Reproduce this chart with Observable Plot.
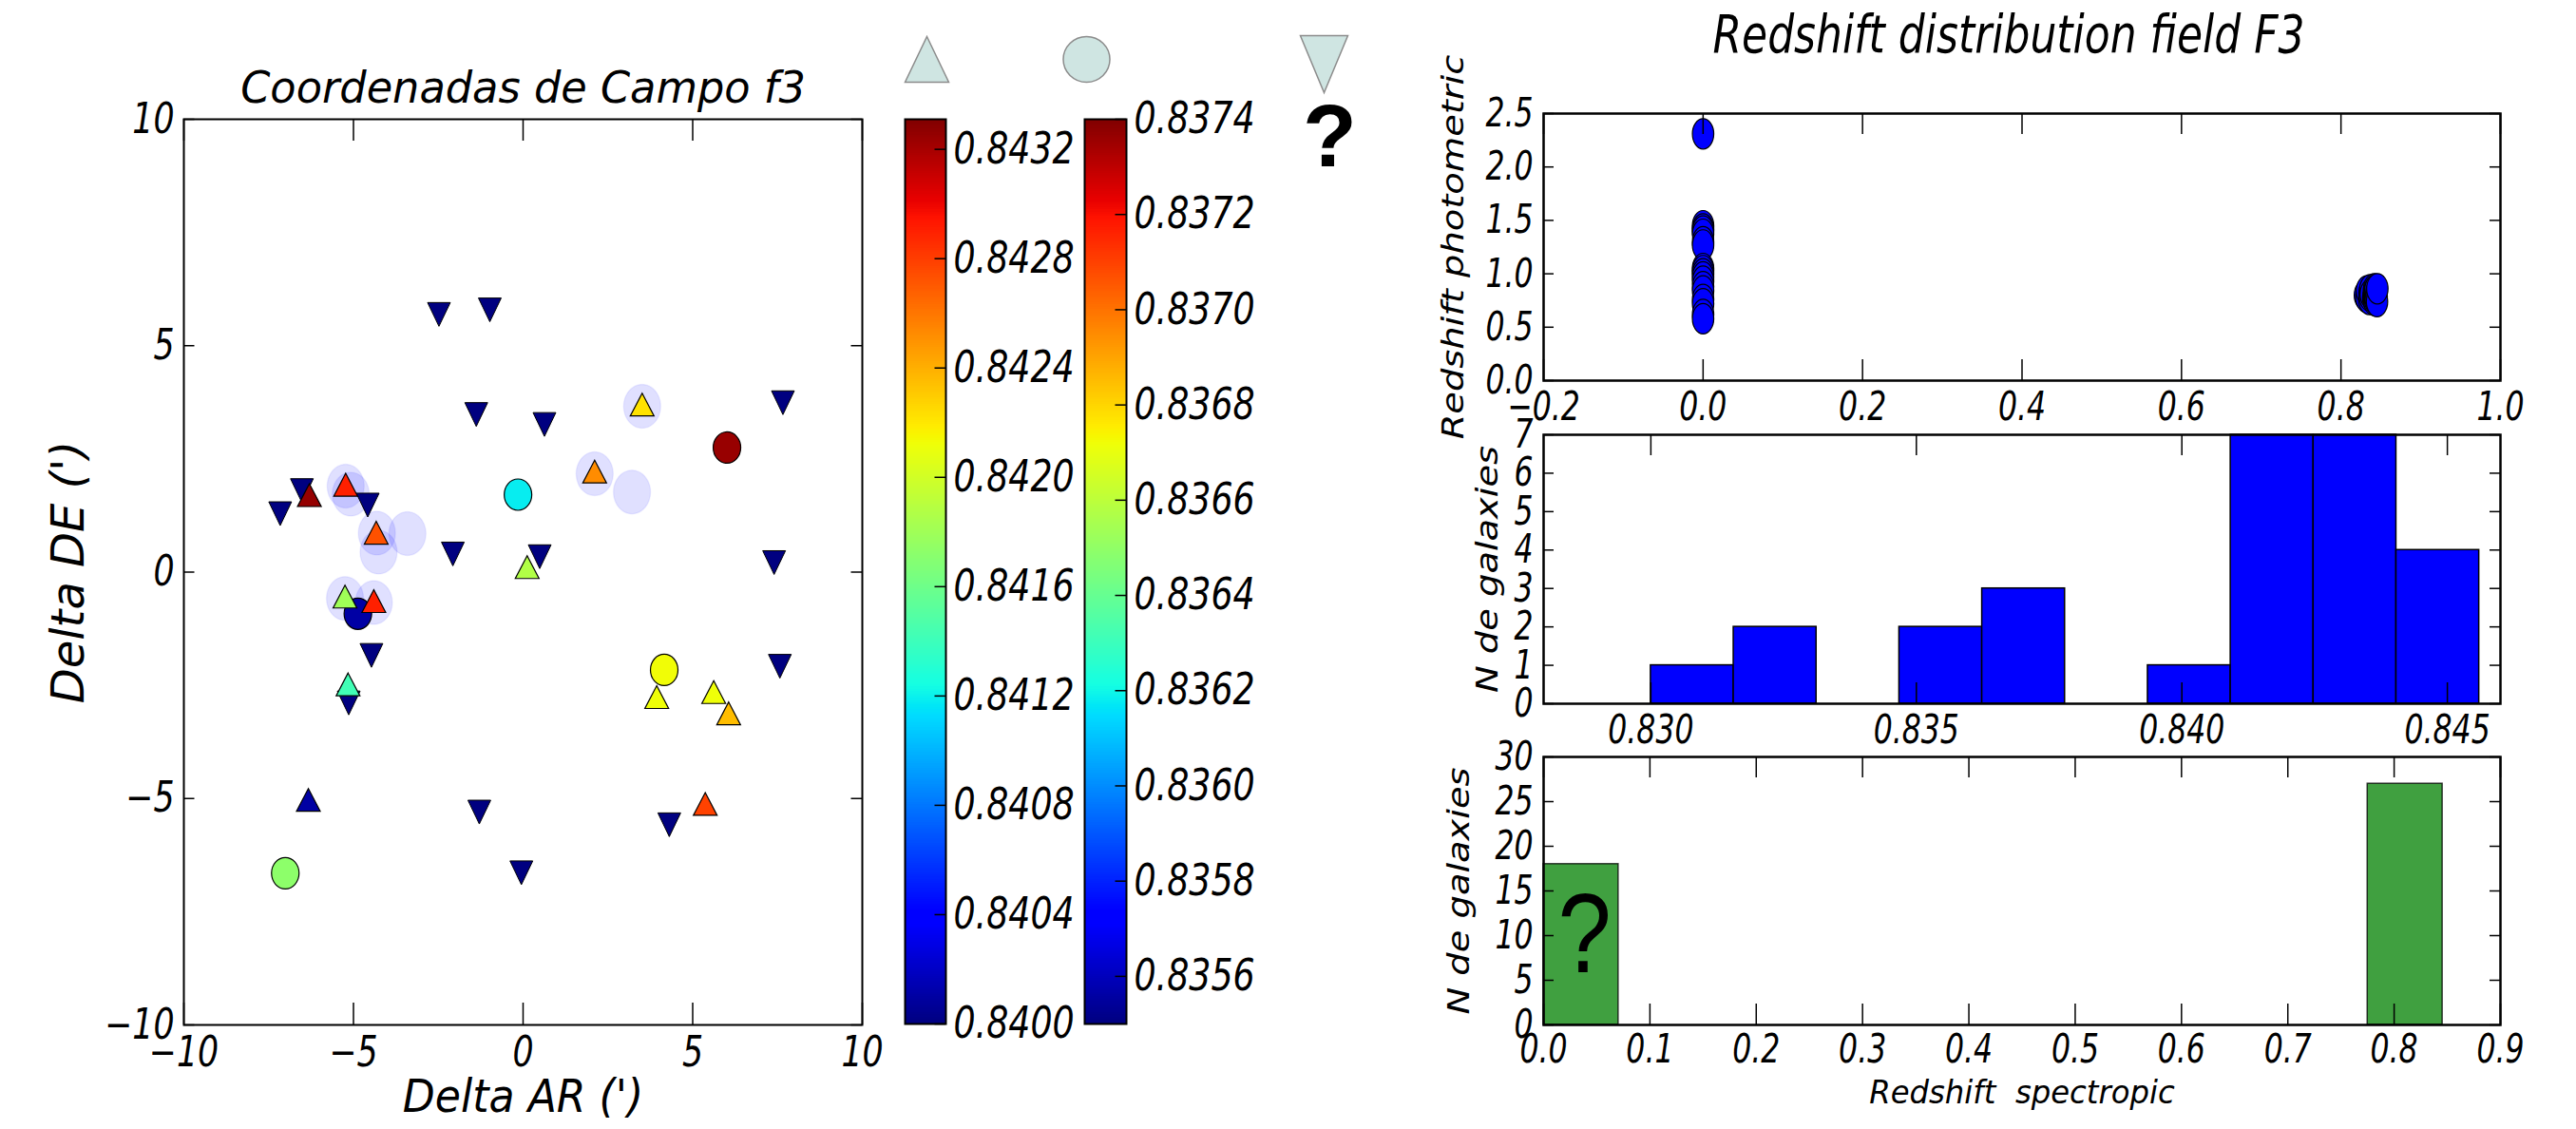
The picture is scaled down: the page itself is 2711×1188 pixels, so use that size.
<!DOCTYPE html>
<html><head><meta charset="utf-8">
<script src="https://cdn.jsdelivr.net/npm/d3@7"></script>
<script src="https://cdn.jsdelivr.net/npm/@observablehq/plot@0.6"></script>
<style>
body{margin:0;background:#fff;}
#fig{position:relative;width:2711px;height:1188px;background:#fff;overflow:hidden;}
#fig > svg{position:absolute;}
</style></head><body><div id="fig"></div>
<script>
// ---------- Left panel: field coordinates ----------
// galaxies with z_spec > 0.84 (triangles, colour = z)
const triX = [-6.30, -5.23, -4.33, 2.11, 3.51, 0.12, -5.25, -4.40, -5.16, 3.94, 5.62, 6.06, 5.37, -6.33];
const triY = [1.70, 1.93, 0.87, 2.22, 3.70, 0.11, -0.54, -0.64, -2.48, -2.76, -2.65, -3.12, -5.12, -5.03];
const triZ = [0.84325, 0.84290, 0.84273, 0.84252, 0.84222, 0.84187, 0.84180, 0.84290, 0.84142, 0.84212, 0.84212, 0.84235, 0.84278, 0.84010];
// galaxies with z_spec 0.835-0.838 (circles)
const circX = [6.01, -0.15, -4.87, 4.16, -7.01];
const circY = [2.75, 1.71, -0.92, -2.16, -6.65];
const circZ = [0.83736, 0.83618, 0.83556, 0.83672, 0.83649];
// galaxies without spectroscopic redshift (inverted triangles)
const invX = [-2.48, -0.98, -1.38, 0.63, 7.66, -7.16, -6.52, -4.58, -2.07, 0.49, 7.40, -4.47, -5.14, 7.57, -1.29, 4.31, -0.05];
const invY = [5.69, 5.79, 3.48, 3.26, 3.74, 1.29, 1.80, 1.48, 0.40, 0.34, 0.21, -1.84, -2.89, -2.08, -5.30, -5.58, -6.64];
// translucent halos
const haloX = [-5.23, -5.08, -4.31, -3.41, -4.26, 2.11, 3.21, 3.51, -5.25, -4.40];
const haloY = [1.90, 1.72, 0.86, 0.85, 0.44, 2.17, 1.77, 3.66, -0.58, -0.67];
const coordTicks = [-10, -5, 0, 5, 10];

// colour bars
const TRI_LO = 0.8400, TRI_HI = 0.84331;
const CIR_LO = 0.83550, CIR_HI = 0.8374;
const triBarTicks = [0.8400, 0.8404, 0.8408, 0.8412, 0.8416, 0.8420, 0.8424, 0.8428, 0.8432];
const cirBarTicks = [0.8356, 0.8358, 0.8360, 0.8362, 0.8364, 0.8366, 0.8368, 0.8370, 0.8372, 0.8374];

// ---------- Right panels ----------
const zeroSpec = 0.0;
const zeroPhot = [2.31, 1.45, 1.42, 1.40, 1.37, 1.30, 1.27, 1.05, 1.03, 1.00, 0.97, 0.93, 0.88, 0.84, 0.76, 0.72, 0.62, 0.58];
const clusterSpec = [0.8300, 0.8318, 0.8325, 0.8355, 0.8358, 0.8363, 0.8367, 0.8374, 0.8405, 0.8412, 0.8414, 0.8418, 0.8418, 0.8419, 0.8421, 0.8422, 0.8425, 0.8427, 0.8428, 0.8428, 0.8429, 0.8432, 0.8436, 0.8445, 0.8448, 0.8452, 0.8456];
const clusterPhot = [0.80, 0.78, 0.84, 0.76, 0.82, 0.79, 0.85, 0.81, 0.77, 0.83, 0.80, 0.86, 0.75, 0.82, 0.79, 0.84, 0.78, 0.81, 0.76, 0.83, 0.80, 0.85, 0.77, 0.82, 0.79, 0.74, 0.86];
const photXTicks = [-0.2, 0.0, 0.2, 0.4, 0.6, 0.8, 1.0];
const photYTicks = [0.0, 0.5, 1.0, 1.5, 2.0, 2.5];

const zoomEdges = [0.8300, 0.83156, 0.83312, 0.83468, 0.83624, 0.8378, 0.83936, 0.84092, 0.84248, 0.84404, 0.8456];
const zoomCounts = [1, 2, 0, 2, 3, 0, 1, 7, 7, 4];
const zoomXTicks = [0.830, 0.835, 0.840, 0.845];
const zoomYTicks = [0, 1, 2, 3, 4, 5, 6, 7];

const fullEdges = [0, 0.0705, 0.1409, 0.2114, 0.2819, 0.3523, 0.4228, 0.4933, 0.5637, 0.6342, 0.7047, 0.7751, 0.8456];
const fullCounts = [18, 0, 0, 0, 0, 0, 0, 0, 0, 0, 0, 27];
const fullXTicks = [0.0, 0.1, 0.2, 0.3, 0.4, 0.5, 0.6, 0.7, 0.8, 0.9];
const fullYTicks = [0, 5, 10, 15, 20, 25, 30];

// ---------- helpers ----------
const JET_T = [0, 0.11, 0.125, 0.34, 0.35, 0.375, 0.64, 0.65, 0.66, 0.89, 0.91, 1];
function jet(t) {
  const lerp = (pts) => {
    for (let i = 1; i < pts.length; i++) {
      if (t <= pts[i][0]) { const [t0, v0] = pts[i - 1], [t1, v1] = pts[i]; return v0 + (v1 - v0) * (t - t0) / (t1 - t0); }
    }
    return pts[pts.length - 1][1];
  };
  const r = lerp([[0, 0], [0.35, 0], [0.66, 1], [0.89, 1], [1, 0.5]]);
  const g = lerp([[0, 0], [0.125, 0], [0.375, 1], [0.64, 1], [0.91, 0], [1, 0]]);
  const b = lerp([[0, 0.5], [0.11, 1], [0.34, 1], [0.65, 0], [1, 0]]);
  return d3.rgb(r * 255, g * 255, b * 255).formatHex();
}
const colorOpt = {type: "linear", domain: JET_T, range: JET_T.map(jet), interpolate: "rgb", clamp: true};

function triSym(w, h, dir) {
  return {draw(ctx) { const a = w / 2, b = h / 2 * dir; ctx.moveTo(0, -b); ctx.lineTo(a, b); ctx.lineTo(-a, b); ctx.closePath(); }};
}
function ellSym(w, h) {
  return {draw(ctx) {
    const a = w / 2, b = h / 2, k = 0.5523;
    ctx.moveTo(a, 0);
    ctx.bezierCurveTo(a, k * b, k * a, b, 0, b);
    ctx.bezierCurveTo(-k * a, b, -a, k * b, -a, 0);
    ctx.bezierCurveTo(-a, -k * b, -k * a, -b, 0, -b);
    ctx.bezierCurveTo(k * a, -b, a, -k * b, a, 0);
    ctx.closePath();
  }};
}
function slices(lo, hi, n) {
  return d3.range(n).map(i => ({y1: lo + (hi - lo) * i / n, y2: lo + (hi - lo) * (i + 1) / n, t: (i + 0.5) / n}));
}
function stretch(svg, def, map) {
  for (const t of svg.querySelectorAll("text")) {
    const s = map[t.textContent] ?? def;
    if (s === 1) continue;
    const x = +t.getAttribute("x") || 0, y = +t.getAttribute("y") || 0;
    const tr = t.getAttribute("transform") || "";
    t.setAttribute("transform", `${tr} translate(${x},${y}) scale(${s},1) translate(${-x},${-y})`);
  }
}
const fig = document.getElementById("fig");
const baseStyle = {background: "none", overflow: "visible", fontFamily: "DejaVu Sans", fontStyle: "italic", fontSize: "40px"};
function place(svg, left, top) { svg.style.left = left + "px"; svg.style.top = top + "px"; fig.appendChild(svg); }
function inTicks(xt, yt, fw, fh, lx, ly, sw) {
  return [
    Plot.ruleX(xt, {x: d => d, insetTop: fh - lx, stroke: "black", strokeWidth: sw}),
    Plot.ruleX(xt, {x: d => d, insetBottom: fh - lx, stroke: "black", strokeWidth: sw}),
    Plot.ruleY(yt, {y: d => d, insetRight: fw - ly, stroke: "black", strokeWidth: sw}),
    Plot.ruleY(yt, {y: d => d, insetLeft: fw - ly, stroke: "black", strokeWidth: sw})
  ];
}
const T = (s, o) => Plot.text([s], {lineAnchor: "middle", textAnchor: "middle", ...o});

const tris = triX.map((x, i) => ({x, y: triY[i], t: (triZ[i] - TRI_LO) / (TRI_HI - TRI_LO)}));
const circs = circX.map((x, i) => ({x, y: circY[i], t: (circZ[i] - CIR_LO) / (CIR_HI - CIR_LO)}));
const invs = invX.map((x, i) => ({x, y: invY[i]}));
const halos = haloX.map((x, i) => ({x, y: haloY[i]}));

// ---------- P1 scatter ----------
{
  const svg = Plot.plot({
    width: 960, height: 1188, marginLeft: 193, marginRight: 53, marginTop: 125, marginBottom: 110,
    x: {domain: [-10, 10], label: null}, y: {domain: [-10, 10], label: null}, color: colorOpt, style: baseStyle,
    marks: [
      Plot.dot(halos, {x: "x", y: "y", symbol: ellSym(39, 46), fill: "blue", fillOpacity: 0.12, stroke: "blue", strokeOpacity: 0.06}),
      Plot.dot(invs, {x: "x", y: "y", symbol: triSym(24, 25, -1), fill: "#000080", stroke: "black", strokeWidth: 1}),
      Plot.dot(circs, {x: "x", y: "y", symbol: ellSym(29, 33), fill: "t", stroke: "black", strokeWidth: 1.2}),
      Plot.dot(tris, {x: "x", y: "y", symbol: triSym(25, 24, 1), fill: "t", stroke: "black", strokeWidth: 1.2}),
      ...inTicks(coordTicks, coordTicks, 714, 953, 23, 11.5, 1.5),
      Plot.frame({stroke: "black", strokeWidth: 2}),
      Plot.axisX(coordTicks, {tickSize: 0, tickPadding: 12, fontSize: 44, label: null}),
      Plot.axisY(coordTicks, {tickSize: 0, tickPadding: 10, fontSize: 44, label: null}),
      T("Coordenadas de Campo f3", {frameAnchor: "top", dy: -32.5, fontSize: 47}),
      T("Delta AR (')", {frameAnchor: "bottom", dy: 76.5, fontSize: 48}),
      T("Delta DE (')", {frameAnchor: "left", dx: -121, rotate: -90, fontSize: 48})
    ]
  });
  stretch(svg, 0.79, {"Coordenadas de Campo f3": 0.95, "Delta AR (')": 0.92, "Delta DE (')": 1});
  place(svg, 0, 0);
}

// ---------- P2 colour bar (triangles) ----------
{
  const svg = Plot.plot({
    width: 300, height: 1188, marginLeft: 52, marginRight: 205, marginTop: 125, marginBottom: 111,
    x: {domain: [0, 1], axis: null}, y: {domain: [TRI_LO, TRI_HI], axis: null}, color: colorOpt, style: baseStyle,
    marks: [
      Plot.rect(slices(TRI_LO, TRI_HI, 400), {x1: 0, x2: 1, y1: "y1", y2: "y2", fill: "t", shapeRendering: "crispEdges"}),
      Plot.ruleY(triBarTicks, {y: d => d, insetLeft: 43 - 11.5, stroke: "black", strokeWidth: 1.5}),
      Plot.frame({stroke: "black", strokeWidth: 2}),
      Plot.axisY(triBarTicks, {anchor: "right", tickSize: 0, tickPadding: 8, tickFormat: d3.format(".4f"), fontSize: 46, label: null}),
      Plot.dot([0], {frameAnchor: "top", dx: 1.5, dy: -63, symbol: triSym(46, 48, 1), fill: "#cfe5e2", stroke: "#8c8c8c", strokeWidth: 1.5})
    ]
  });
  stretch(svg, 0.79, {});
  place(svg, 900, 0);
}

// ---------- P3 colour bar (circles) + legend ----------
{
  const svg = Plot.plot({
    width: 340, height: 1188, marginLeft: 41, marginRight: 255, marginTop: 125, marginBottom: 111,
    x: {domain: [0, 1], axis: null}, y: {domain: [CIR_LO, CIR_HI], axis: null}, color: colorOpt, style: baseStyle,
    marks: [
      Plot.rect(slices(CIR_LO, CIR_HI, 400), {x1: 0, x2: 1, y1: "y1", y2: "y2", fill: "t", shapeRendering: "crispEdges"}),
      Plot.ruleY(cirBarTicks, {y: d => d, insetLeft: 44 - 11.5, stroke: "black", strokeWidth: 1.5}),
      Plot.frame({stroke: "black", strokeWidth: 2}),
      Plot.axisY(cirBarTicks, {anchor: "right", tickSize: 0, tickPadding: 8, tickFormat: d3.format(".4f"), fontSize: 46, label: null}),
      Plot.dot([0], {frameAnchor: "top", dx: -20, dy: -63, symbol: ellSym(49, 48), fill: "#cfe5e2", stroke: "#8c8c8c", strokeWidth: 1.5}),
      Plot.dot([0], {frameAnchor: "top", dx: 230, dy: -58, symbol: triSym(50, 60, -1), fill: "#cfe5e2", stroke: "#8c8c8c", strokeWidth: 1.5}),
      T("?", {frameAnchor: "top", dx: 236, dy: 19.5, fontSize: 93, fontFamily: "Liberation Sans", fontStyle: "normal", fontWeight: "bold"})
    ]
  });
  stretch(svg, 0.79, {"?": 1});
  place(svg, 1100, 0);
}

// ---------- P4 photometric vs spectroscopic ----------
{
  const pts = zeroPhot.map(p => ({s: zeroSpec, p})).concat(clusterSpec.map((s, i) => ({s, p: clusterPhot[i]})));
  const svg = Plot.plot({
    width: 1261, height: 470, marginLeft: 174, marginRight: 80, marginTop: 119, marginBottom: 70,
    x: {domain: [-0.2, 1.0], label: null}, y: {domain: [0, 2.5], label: null}, style: baseStyle,
    marks: [
      Plot.dot(pts, {x: "s", y: "p", symbol: ellSym(22.5, 32), fill: "#0000ff", stroke: "black", strokeWidth: 1.2}),
      ...inTicks(photXTicks, photYTicks, 1007, 281, 22, 11, 1.5),
      Plot.frame({stroke: "black", strokeWidth: 2.5}),
      Plot.axisX(photXTicks, {tickSize: 0, tickPadding: 12, tickFormat: d3.format(".1f"), fontSize: 42, label: null}),
      Plot.axisY(photYTicks, {tickSize: 0, tickPadding: 11, tickFormat: d3.format(".1f"), fontSize: 42, label: null}),
      T("Redshift distribution field F3", {frameAnchor: "top", dx: -14, dy: -82, fontSize: 55}),
      T("Redshift photometric", {frameAnchor: "left", dx: -95, rotate: -90, fontSize: 32})
    ]
  });
  stretch(svg, 0.75, {"Redshift distribution field F3": 0.8, "Redshift photometric": 1.2});
  place(svg, 1450, 0);
}

// ---------- P5 zoomed histogram ----------
{
  const svg = Plot.plot({
    width: 1261, height: 370, marginLeft: 174, marginRight: 80, marginTop: 27, marginBottom: 60,
    x: {domain: [0.82798, 0.8460], label: null}, y: {domain: [0, 7], label: null}, style: baseStyle,
    marks: [
      Plot.rect(zoomCounts, {x1: (d, i) => zoomEdges[i], x2: (d, i) => zoomEdges[i + 1], y1: 0, y2: d => d, fill: "#0000ff", stroke: "black", strokeWidth: 1.5}),
      ...inTicks(zoomXTicks, zoomYTicks, 1007, 283, 22, 11, 1.5),
      Plot.frame({stroke: "black", strokeWidth: 2.5}),
      Plot.axisX(zoomXTicks, {tickSize: 0, tickPadding: 12, tickFormat: d3.format(".3f"), fontSize: 42, label: null}),
      Plot.axisY(zoomYTicks, {tickSize: 0, tickPadding: 11, fontSize: 42, label: null}),
      T("N de galaxies", {frameAnchor: "left", dx: -59, rotate: -90, fontSize: 32})
    ]
  });
  stretch(svg, 0.75, {"N de galaxies": 1.2});
  place(svg, 1450, 430);
}

// ---------- P6 full histogram ----------
{
  const svg = Plot.plot({
    width: 1261, height: 418, marginLeft: 174, marginRight: 80, marginTop: 26, marginBottom: 110,
    x: {domain: [0, 0.9], label: null}, y: {domain: [0, 30], label: null}, style: baseStyle,
    marks: [
      Plot.rect(fullCounts, {x1: (d, i) => fullEdges[i], x2: (d, i) => fullEdges[i + 1], y1: 0, y2: d => d, fill: "green", fillOpacity: 0.75, stroke: "black", strokeOpacity: 0.75, strokeWidth: 1.5}),
      ...inTicks(fullXTicks, fullYTicks, 1007, 282, 22, 11, 1.5),
      Plot.frame({stroke: "black", strokeWidth: 2.5}),
      Plot.axisX(fullXTicks, {tickSize: 0, tickPadding: 10, tickFormat: d3.format(".1f"), fontSize: 42, label: null}),
      Plot.axisY(fullYTicks, {tickSize: 0, tickPadding: 11, fontSize: 42, label: null}),
      T("N de galaxies", {frameAnchor: "left", dx: -89, rotate: -90, fontSize: 32}),
      T("Redshift  spectropic", {frameAnchor: "bottom", dy: 72, fontSize: 34}),
      T("?", {frameAnchor: "bottom-left", dx: 43, dy: -94, fontSize: 119, fontFamily: "Liberation Sans", fontStyle: "normal", fontWeight: "normal"})
    ]
  });
  stretch(svg, 0.75, {"N de galaxies": 1.2, "Redshift  spectropic": 0.95, "?": 0.85});
  place(svg, 1450, 770);
}
</script></body></html>
